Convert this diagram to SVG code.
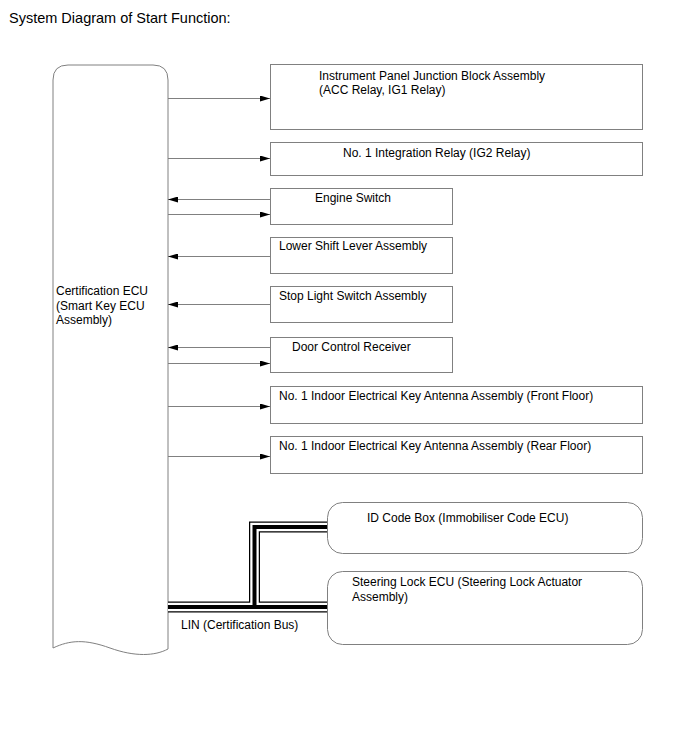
<svg xmlns="http://www.w3.org/2000/svg" width="688" height="755" viewBox="0 0 688 755">
<style>
text{font-family:"Liberation Sans",Arial,sans-serif;font-size:12px;fill:#000}
.box{fill:#fff;stroke:#808080;stroke-width:1}
.ln{stroke:#808080;stroke-width:1;fill:none}
.bo{stroke:#000;stroke-width:11;fill:none}
.bw{stroke:#fff;stroke-width:8.5;fill:none}
.bc{stroke:#000;stroke-width:4;fill:none}
</style>
<defs>
<marker id="ah" viewBox="0 0 10 6" refX="10" refY="3" markerWidth="10" markerHeight="6" markerUnits="userSpaceOnUse" orient="auto">
<path d="M0,0 L10,3 L0,6 Z" fill="#000"/>
</marker>
</defs>
<rect width="688" height="755" fill="#fff"/>
<text x="9" y="23" style="font-size:14.5px">System Diagram of Start Function:</text>

<g id="ecu">
<path class="box" d="M53,648 V80 Q53,65 68,65 H153 Q168,65 168,80 V649 C155,656 135,657 110,648 C85,639 70,640 53,648 Z"/>
<text x="56" y="295">Certification ECU</text>
<text x="56" y="310">(Smart Key ECU</text>
<text x="56" y="324">Assembly)</text>
</g>

<g id="n1"><rect class="box" x="270.5" y="64.5" width="372" height="65"/>
<text x="319" y="80">Instrument Panel Junction Block Assembly</text>
<text x="319" y="94">(ACC Relay, IG1 Relay)</text></g>
<g id="n2"><rect class="box" x="270.5" y="142.5" width="372" height="33"/>
<text x="343" y="157">No. 1 Integration Relay (IG2 Relay)</text></g>
<g id="n3"><rect class="box" x="270.5" y="188.5" width="182" height="36"/>
<text x="315" y="202">Engine Switch</text></g>
<g id="n4"><rect class="box" x="270.5" y="237.5" width="182" height="36"/>
<text x="279" y="250">Lower Shift Lever Assembly</text></g>
<g id="n5"><rect class="box" x="270.5" y="286.5" width="182" height="36"/>
<text x="279" y="300">Stop Light Switch Assembly</text></g>
<g id="n6"><rect class="box" x="270.5" y="337.5" width="182" height="35"/>
<text x="292" y="351">Door Control Receiver</text></g>
<g id="n7"><rect class="box" x="270.5" y="386.5" width="372" height="37"/>
<text x="279" y="400">No. 1 Indoor Electrical Key Antenna Assembly (Front Floor)</text></g>
<g id="n8"><rect class="box" x="270.5" y="436.5" width="372" height="37"/>
<text x="279" y="450">No. 1 Indoor Electrical Key Antenna Assembly (Rear Floor)</text></g>
<g id="n9"><rect class="box" x="327.5" y="502.5" width="315" height="51" rx="15"/>
<text x="367" y="522">ID Code Box (Immobiliser Code ECU)</text></g>
<g id="n10"><rect class="box" x="327.5" y="571.5" width="315" height="73" rx="15"/>
<text x="352" y="586">Steering Lock ECU (Steering Lock Actuator</text>
<text x="352" y="601">Assembly)</text></g>

<g id="connectors">
<path class="ln" d="M168,98.5 H270" marker-end="url(#ah)"/>
<path class="ln" d="M168,158.5 H270" marker-end="url(#ah)"/>
<path class="ln" d="M270,199.5 H168" marker-end="url(#ah)"/>
<path class="ln" d="M168,214.5 H270" marker-end="url(#ah)"/>
<path class="ln" d="M270,256.5 H168" marker-end="url(#ah)"/>
<path class="ln" d="M270,304.5 H168" marker-end="url(#ah)"/>
<path class="ln" d="M270,347.5 H168" marker-end="url(#ah)"/>
<path class="ln" d="M168,363.5 H270" marker-end="url(#ah)"/>
<path class="ln" d="M168,406.5 H270" marker-end="url(#ah)"/>
<path class="ln" d="M168,456.5 H270" marker-end="url(#ah)"/>
<g id="lin">
<path class="bo" d="M168,607 H327 M254.5,607 V527 H327"/>
<path class="bw" d="M168,607 H327 M254.5,607 V527 H327"/>
<path class="bc" d="M168,607 H327 M254.5,607 V527 H327"/>
</g>
<text x="181" y="629">LIN (Certification Bus)</text>
</g>
</svg>
